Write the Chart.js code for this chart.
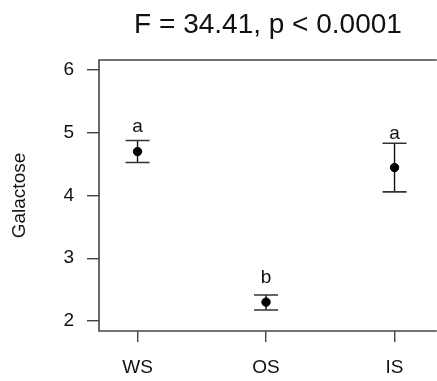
<!DOCTYPE html>
<html>
<head>
<meta charset="utf-8">
<script src="https://cdn.jsdelivr.net/npm/chart.js@4.4.0/dist/chart.umd.min.js"></script>
<style>
  html, body { margin: 0; padding: 0; background: #fff; overflow: hidden; }
  #wrap { width: 437px; height: 381px; position: relative; }
</style>
</head>
<body>
<div id="wrap"><canvas id="c" width="437" height="381"></canvas></div>
<script>
// ---- data ----
const categories = ['WS', 'OS', 'IS'];
const means = [4.70, 2.30, 4.445];
const upper = [4.876, 2.415, 4.834];
const lower = [4.525, 2.175, 4.057];
const letters = ['a', 'b', 'a'];
const letterY = [5.09, 2.69, 4.99];
const yTicks = [2, 3, 4, 5, 6];
const xTicks = [1, 2, 3];
const titleText = 'F = 34.41, p < 0.0001';
const yLabel = 'Galactose';

const FONT = '"Liberation Sans", Arial, sans-serif';
const AXIS_COLOR = '#444';

const points = means.map((m, i) => ({ x: i + 1, y: m }));

const decorPlugin = {
  id: 'decor',
  beforeDatasetsDraw(chart) {
    const { ctx, chartArea: a, scales: { x, y } } = chart;
    ctx.save();
    // box (right side lies beyond the canvas, as in the reference)
    ctx.strokeStyle = AXIS_COLOR;
    ctx.lineWidth = 1.6;
    ctx.beginPath();
    ctx.moveTo(a.right + 5, a.top);
    ctx.lineTo(a.left, a.top);
    ctx.lineTo(a.left, a.bottom);
    ctx.lineTo(a.right + 5, a.bottom);
    ctx.stroke();
    // error bars
    for (let i = 0; i < means.length; i++) {
      const px = x.getPixelForValue(i + 1);
      const yu = y.getPixelForValue(upper[i]);
      const yl = y.getPixelForValue(lower[i]);
      ctx.strokeStyle = '#111';
      ctx.lineWidth = 1.4;
      ctx.beginPath();
      ctx.moveTo(px, yu); ctx.lineTo(px, yl);
      ctx.stroke();
      ctx.strokeStyle = '#333';
      ctx.lineWidth = 1.6;
      ctx.beginPath();
      ctx.moveTo(px - 12, yu); ctx.lineTo(px + 12, yu);
      ctx.moveTo(px - 12, yl); ctx.lineTo(px + 12, yl);
      ctx.stroke();
      // group letters
      ctx.fillStyle = '#111';
      ctx.font = '19px ' + FONT;
      ctx.textAlign = 'center';
      ctx.textBaseline = 'middle';
      ctx.fillText(letters[i], px, y.getPixelForValue(letterY[i]));
    }
    // title
    ctx.fillStyle = '#111';
    ctx.font = '28px ' + FONT;
    ctx.textAlign = 'center';
    ctx.textBaseline = 'alphabetic';
    ctx.fillText(titleText, 268, 33);
    ctx.restore();
  }
};

new Chart(document.getElementById('c'), {
  type: 'scatter',
  data: {
    datasets: [{
      data: points,
      backgroundColor: '#000',
      borderColor: '#000',
      pointRadius: 4.2,
      pointHoverRadius: 4.2
    }]
  },
  options: {
    responsive: false,
    animation: false,
    events: [],
    layout: { padding: { top: 60, right: 0, bottom: 0, left: 0 } },
    plugins: { legend: { display: false }, tooltip: { enabled: false } },
    scales: {
      x: {
        type: 'linear',
        min: 0.7,
        max: 3.29,
        afterFit(s) { s.height = 50; },
        afterBuildTicks(s) { s.ticks = xTicks.map(v => ({ value: v })); },
        grid: { drawOnChartArea: false, drawTicks: true, tickLength: 11, color: AXIS_COLOR, lineWidth: 1.4 },
        border: { display: false },
        ticks: {
          padding: 14,
          color: '#111',
          font: { family: FONT, size: 19 },
          maxRotation: 0,
          autoSkip: false,
          callback: (v) => categories[v - 1]
        }
      },
      y: {
        min: 1.84,
        max: 6.16,
        afterFit(s) { s.width = 99; },
        afterBuildTicks(s) { s.ticks = yTicks.map(v => ({ value: v })); },
        grid: { drawOnChartArea: false, drawTicks: true, tickLength: 12, color: AXIS_COLOR, lineWidth: 1.4 },
        border: { display: false },
        ticks: {
          padding: 13,
          color: '#111',
          font: { family: FONT, size: 19 },
          callback: (v) => String(v)
        },
        title: {
          display: true,
          text: yLabel,
          color: '#111',
          font: { family: FONT, size: 19 },
          padding: { top: 8, bottom: 0 }
        }
      }
    }
  },
  plugins: [decorPlugin]
});
</script>
</body>
</html>
